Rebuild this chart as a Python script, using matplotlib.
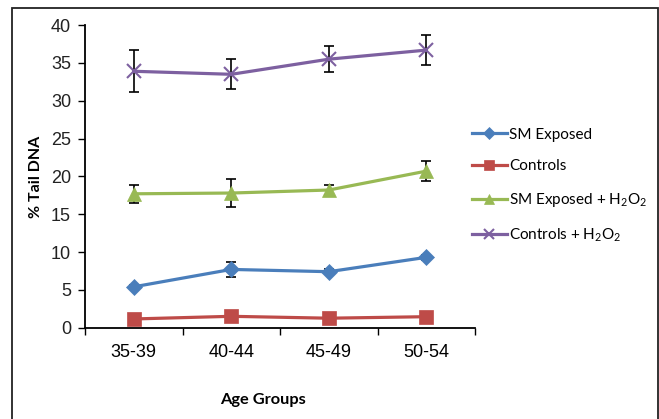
import numpy as np
import matplotlib
matplotlib.use('Agg')
import matplotlib.pyplot as plt
from matplotlib.patches import Rectangle

plt.rcParams['font.family'] = ['Lato', 'DejaVu Sans']
plt.rcParams['mathtext.default'] = 'regular'

# Data
age_groups = ['35-39', '40-44', '45-49', '50-54']
sm_exposed = [5.4, 7.7, 7.4, 9.3]
sm_exposed_err = [0.3, 1.0, 0.3, 0.3]
controls = [1.15, 1.5, 1.25, 1.45]
controls_err = [0.2, 0.2, 0.2, 0.2]
sm_h2o2 = [17.7, 17.8, 18.2, 20.7]
sm_h2o2_err = [1.2, 1.9, 0.7, 1.3]
ctrl_h2o2 = [33.9, 33.5, 35.5, 36.7]
ctrl_h2o2_err = [2.75, 2.0, 1.7, 2.0]

fig = plt.figure(figsize=(6.59, 4.19), dpi=100)
ax = fig.add_axes([0.129, 0.218, 0.592, 0.722])

# outer frame
fig.patches.append(Rectangle((12/659, -0.1), 646/659, 1.1 - 8/419,
                             transform=fig.transFigure, fill=False,
                             edgecolor='#222222', linewidth=1.3))

x = np.arange(len(age_groups))
series = [
    ('SM Exposed', sm_exposed, sm_exposed_err, '#4A7EBB', 'D', 8),
    ('Controls', controls, controls_err, '#BE4B48', 's', 10),
    ('SM Exposed + H$_2$O$_2$', sm_h2o2, sm_h2o2_err, '#98B954', '^', 10),
    ('Controls + H$_2$O$_2$', ctrl_h2o2, ctrl_h2o2_err, '#7D60A0', 'x', 10),
]
for name, vals, err, col, mk, ms in series:
    ax.errorbar(x, vals, yerr=err, fmt='none', ecolor='black', elinewidth=1.2,
                capsize=3.5, capthick=1.2, zorder=2)
    ax.plot(x, vals, color=col, marker=mk, markersize=ms, linewidth=2.3,
            markeredgewidth=1.5 if mk == 'x' else 0.5, label=name, zorder=3)

ax.set_xlim(-0.5, 3.5)
ax.set_ylim(0, 40)
ax.set_yticks(range(0, 41, 5))
ax.set_xticks(np.arange(-0.5, 3.6, 1))
ax.set_xticklabels([])
ax.set_xticks(x, minor=True)
ax.set_xticklabels(age_groups, minor=True, fontsize=13, family='Liberation Sans')
ax.tick_params(axis='x', which='minor', length=0, pad=12)
ax.tick_params(axis='x', which='major', length=5, width=1, direction='out')
ax.tick_params(axis='y', length=5, width=1, direction='out', labelsize=13, pad=5)
for lbl in ax.get_yticklabels():
    lbl.set_family('Liberation Sans')
    lbl.set_color('#222222')
for s in ['top', 'right']:
    ax.spines[s].set_visible(False)
for s in ['left', 'bottom']:
    ax.spines[s].set_linewidth(1.3)

ax.set_ylabel('% Tail DNA', fontsize=11.5, fontweight='bold', labelpad=6)
fig.text(263/659, 1 - 400/419, 'Age Groups', fontsize=11.8, fontweight='bold',
         ha='center', va='center')

fig.legend(loc='upper left', bbox_to_anchor=(458/659, 1 - 114/419), frameon=False,
           fontsize=11, handlelength=2.3, labelspacing=1.15, handletextpad=0.15,
           markerscale=0.75)

fig.savefig('out.png', dpi=100)
